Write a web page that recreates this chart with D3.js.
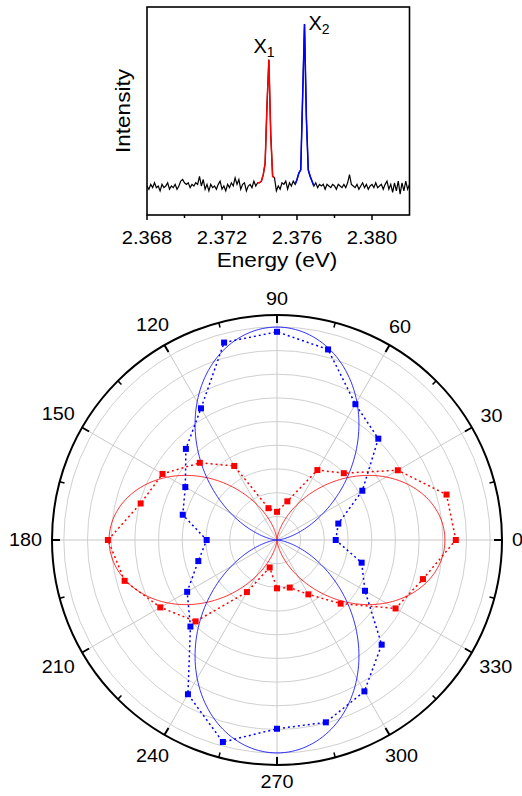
<!DOCTYPE html>
<html><head><meta charset="utf-8">
<script src="https://cdn.jsdelivr.net/npm/d3@7"></script>
<style>body{margin:0;background:#fff}svg{display:block}text{font-family:"Liberation Sans",Arial,sans-serif;fill:#000}</style>
</head><body><svg id="c" width="522" height="796"></svg>
<script>
// ---------------- data ----------------
// spectrum: energy grid start + step, intensities (a.u., baseline ~0, X2 peak = 1)
const energyStart = 2.368, energyStep = 0.0001;
const intensity = [
0.00,-0.02,0.01,-0.01,0.02,-0.01,0.00,-0.03,0.01,-0.01,
0.00,0.02,-0.02,0.00,-0.01,0.01,-0.02,0.00,0.03,0.04,
0.02,0.01,0.02,-0.01,0.01,0.00,0.02,0.01,0.06,0.00,
0.04,-0.02,0.01,-0.03,0.01,-0.01,0.00,-0.02,0.01,0.03,
-0.02,0.00,-0.03,0.01,-0.01,0.02,0.00,0.05,0.01,0.04,
-0.02,0.01,0.02,-0.03,0.00,0.01,-0.01,0.03,0.00,0.02,
0.02,0.03,0.07,0.14,0.50,0.78,0.32,0.06,0.05,-0.03,
0.00,-0.02,0.02,0.01,0.03,-0.02,0.02,0.00,0.03,0.01,
0.04,0.08,0.10,0.55,1.00,0.42,0.10,0.06,0.03,0.00,
0.02,-0.01,0.01,0.00,0.01,-0.02,0.01,0.00,-0.01,0.01,
0.00,-0.02,0.01,0.00,-0.01,0.01,-0.01,0.02,0.07,0.01,
0.00,-0.01,0.01,-0.02,0.00,0.02,-0.01,0.01,-0.02,0.00,
0.01,-0.01,0.02,-0.01,0.00,0.01,-0.02,0.01,0.03,-0.02,
0.01,-0.04,0.02,-0.03,0.03,-0.05,0.02,-0.03,0.03,-0.02,
0.01];
const x1Range = [59, 68];   // index range coloured red (X1)
const x2Range = [79, 89];   // index range coloured blue (X2)
const energyTicks = [2.368, 2.372, 2.376, 2.380];
const energyMinorTicks = [2.370, 2.374, 2.378];

// polar data
const angles = [0,15,30,45,60,75,90,105,120,135,150,165,180,195,210,225,240,255,270,285,300,315,330,345];
const x1Values = [0.755,0.741,0.589,0.399,0.341,0.169,0.119,0.139,0.361,0.461,0.558,0.596,
                  0.714,0.666,0.569,0.486,0.254,0.120,0.204,0.208,0.265,0.380,0.578,0.638];
const x2Values = [0.248,0.268,0.416,0.605,0.662,0.833,0.879,0.863,0.642,0.544,0.447,0.412,
                  0.297,0.344,0.438,0.517,0.752,0.883,0.797,0.797,0.738,0.625,0.429,0.370];
const fitAmplitude = [0.709, 0.899];  // X1, X2 cos^2 fit
const fitPhase = [0, 90];
const angleTicks = [0,30,60,90,120,150,180,210,240,270,300,330];
const angleMinorTicks = [15,45,75,105,135,165,195,225,255,285,315,345];
const ringValues = [0.1,0.2,0.3,0.4,0.5,0.6,0.7,0.8,0.9];
const radialMax = 0.95;

// ---------------- drawing ----------------
const svg = d3.select("#c");
const RED = "#ff0000", BLUE = "#0000ff";

function stretchedText(g, x, y, str, size, sx, opts = {}) {
  const t = g.append("text")
    .attr("transform", `translate(${x},${y})${opts.rot ? ` rotate(${opts.rot})` : ""} scale(${sx},1)`)
    .attr("text-anchor", opts.anchor || "middle")
    .attr("font-size", size)
    .text(str);
  if (opts.dy) t.attr("dy", opts.dy);
  return t;
}

// ---- spectrum ----
const sx = d3.scaleLinear([2.368, 2.382], [147, 409.5]);
const sy = d3.scaleLinear([-0.179, 1.105], [215, 7]);
const spec = intensity.map((v, i) => ({e: energyStart + i * energyStep, v, i}));
const sLine = d3.line().x(d => sx(d.e)).y(d => sy(d.v));
const gTop = svg.append("g");
gTop.append("path").datum(spec).attr("d", sLine).attr("fill", "none").attr("stroke", "#000").attr("stroke-width", 1.2);
gTop.append("path").datum(spec.filter(d => d.i >= x1Range[0] && d.i <= x1Range[1])).attr("d", sLine)
   .attr("fill", "none").attr("stroke", RED).attr("stroke-width", 1.5);
gTop.append("path").datum(spec.filter(d => d.i >= x2Range[0] && d.i <= x2Range[1])).attr("d", sLine)
   .attr("fill", "none").attr("stroke", BLUE).attr("stroke-width", 1.5);
gTop.append("rect").attr("x", 147).attr("y", 7).attr("width", 409.5 - 147).attr("height", 208)
   .attr("fill", "none").attr("stroke", "#000").attr("stroke-width", 1.6);
energyTicks.forEach(e => {
  gTop.append("line").attr("x1", sx(e)).attr("x2", sx(e)).attr("y1", 215).attr("y2", 220).attr("stroke", "#000").attr("stroke-width", 1.5);
  stretchedText(gTop, sx(e), 243.5, d3.format(".3f")(e), 18, 1.12);
});
energyMinorTicks.forEach(e => {
  gTop.append("line").attr("x1", sx(e)).attr("x2", sx(e)).attr("y1", 215).attr("y2", 218).attr("stroke", "#000").attr("stroke-width", 1.5);
});
stretchedText(gTop, 277, 267, "Energy (eV)", 19.5, 1.16);
stretchedText(gTop, 129.5, 111, "Intensity", 19.5, 1.16, {rot: -90});
// peak labels
function subLabel(x, y, main, sub) {
  const t = gTop.append("text").attr("x", x).attr("y", y).attr("font-size", 20);
  t.append("tspan").text(main);
  t.append("tspan").attr("font-size", 14).attr("dy", 4).text(sub);
}
subLabel(253.5, 53.3, "X", "1");
subLabel(308.5, 30, "X", "2");

// ---- polar ----
const cx = 277, cy = 540, R = 225;
const rScale = d3.scaleLinear([0, radialMax], [0, R]);
const toRad = a => a * Math.PI / 180;
const P = svg.append("g").attr("transform", `translate(${cx},${cy})`);
ringValues.forEach(v => P.append("circle").attr("r", rScale(v)).attr("fill", "none").attr("stroke", "#d0d0d0").attr("stroke-width", 1));
angleTicks.forEach(a => P.append("line").attr("x1", 0).attr("y1", 0)
  .attr("x2", R * Math.cos(toRad(a))).attr("y2", -R * Math.sin(toRad(a))).attr("stroke", "#c8c8c8").attr("stroke-width", 1));

// fit curves
const fitAngles = d3.range(0, 361, 1);
const radial = d3.lineRadial().angle(d => toRad(90 - d.a)).radius(d => rScale(d.v));
[RED, BLUE].forEach((col, k) => {
  const pts = fitAngles.map(a => ({a, v: fitAmplitude[k] * Math.pow(Math.cos(toRad(a - fitPhase[k])), 2)}));
  P.append("path").datum(pts).attr("d", radial).attr("fill", "none").attr("stroke", col).attr("stroke-width", 1).attr("opacity", 0.8);
});

// measured data
const closed = d3.lineRadial().angle(d => toRad(90 - d.a)).radius(d => rScale(d.v)).curve(d3.curveLinearClosed);
[[x1Values, RED], [x2Values, BLUE]].forEach(([vals, col]) => {
  const pts = angles.map((a, i) => ({a, v: vals[i]}));
  P.append("path").datum(pts).attr("d", closed).attr("fill", "none").attr("stroke", col)
    .attr("stroke-width", 1.5).attr("stroke-dasharray", "2,3");
  P.selectAll(null).data(pts).join("rect")
    .attr("x", d => rScale(d.v) * Math.cos(toRad(d.a)) - 3)
    .attr("y", d => -rScale(d.v) * Math.sin(toRad(d.a)) - 3)
    .attr("width", 6).attr("height", 6).attr("fill", col);
});

// outer circle + ticks
P.append("circle").attr("r", R).attr("fill", "none").attr("stroke", "#000").attr("stroke-width", 2);
angleTicks.forEach(a => P.append("line")
  .attr("x1", R * Math.cos(toRad(a))).attr("y1", -R * Math.sin(toRad(a)))
  .attr("x2", (R - 8) * Math.cos(toRad(a))).attr("y2", -(R - 8) * Math.sin(toRad(a)))
  .attr("stroke", "#000").attr("stroke-width", 2));
angleMinorTicks.forEach(a => P.append("line")
  .attr("x1", R * Math.cos(toRad(a))).attr("y1", -R * Math.sin(toRad(a)))
  .attr("x2", (R - 5) * Math.cos(toRad(a))).attr("y2", -(R - 5) * Math.sin(toRad(a)))
  .attr("stroke", "#000").attr("stroke-width", 1.5));
// angle labels
angleTicks.forEach(a => {
  const t = stretchedText(P, 0, 0, String(a), 18, 1.1, {dy: "0.35em"});
  const w = t.node().getComputedTextLength() * 1.1;
  const c = Math.cos(toRad(a)), s = Math.sin(toRad(a));
  const r = R + 10 + (w / 2) * Math.abs(c) + 6.5 * Math.abs(s);
  t.attr("transform", `translate(${r * c},${-r * s}) scale(1.1,1)`);
});
</script></body></html>
